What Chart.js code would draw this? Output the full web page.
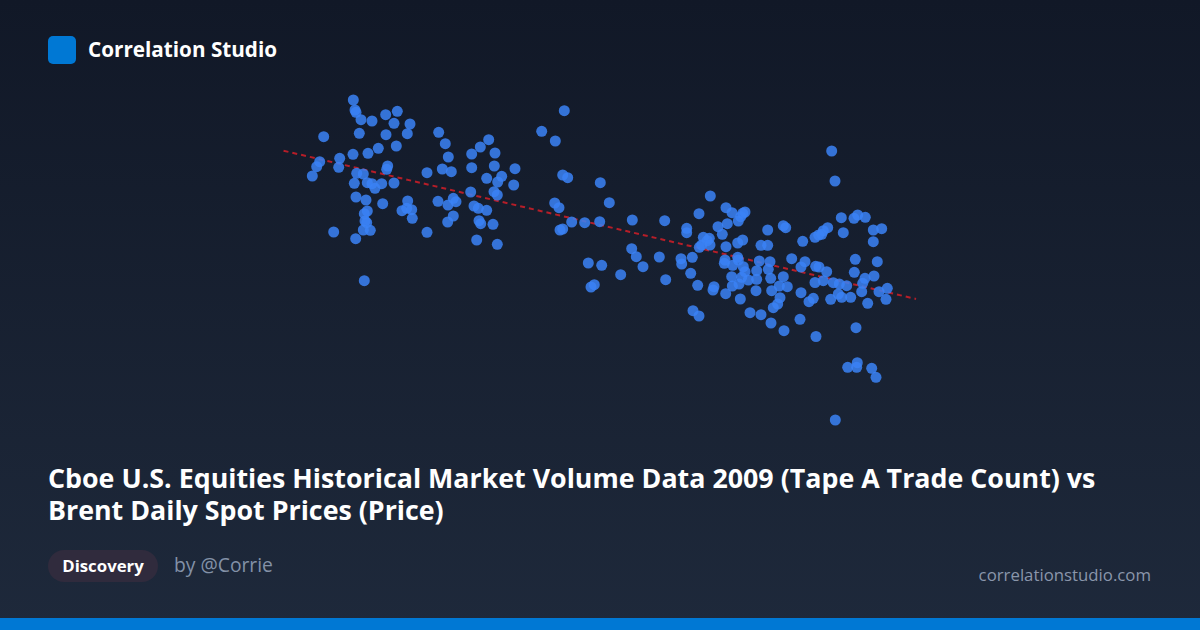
<!DOCTYPE html>
<html>
<head>
<meta charset="utf-8">
<script src="https://cdn.jsdelivr.net/npm/chart.js@4"></script>
<style>
  html, body { margin: 0; padding: 0; }
  body { width: 1200px; height: 630px; overflow: hidden; position: relative;
         background: linear-gradient(180deg, #111827 0%, #1e293b 100%);
         font-family: "Open Sans", "Noto Sans", sans-serif; }
  #logo { position: absolute; left: 48px; top: 36px; width: 28px; height: 28px; border-radius: 5px; background: #0078d4; }
  #brand { position: absolute; left: 88px; top: 34px; font-size: 20.7px; font-weight: 700; color: #ffffff; line-height: 30px; }
  #chartWrap { position: absolute; left: 260px; top: 70px; width: 680px; height: 380px; }
  #title { position: absolute; left: 48px; top: 462px; width: 1104px; font-size: 26.8px; font-weight: 700; color: #ffffff; line-height: 32px; }
  #pill { position: absolute; left: 48px; top: 550px; width: 110px; height: 32px; border-radius: 16px; background: #302b3d;
          color: #fff; font-weight: 700; font-size: 16.8px; line-height: 32px; text-align: center; }
  #author { position: absolute; left: 174px; top: 551px; font-size: 19.3px; color: #8391a7; line-height: 28px; }
  #site { position: absolute; right: 49px; top: 561px; font-size: 16.8px; color: #8a96ab; line-height: 28px; }
  #bar { position: absolute; left: 0; top: 618px; width: 1200px; height: 12px; background: #0078d4; }
</style>
</head>
<body>
<div id="logo"></div>
<div id="brand">Correlation Studio</div>
<div id="chartWrap"><canvas id="c" width="680" height="380"></canvas></div>
<div id="title">Cboe U.S. Equities Historical Market Volume Data 2009 (Tape A Trade Count) vs Brent Daily Spot Prices (Price)</div>
<div id="pill">Discovery</div>
<div id="author">by @Corrie</div>
<div id="site">correlationstudio.com</div>
<div id="bar"></div>
<script>
// Tape A trade count (thousands) per day
const tradeCount = [
  3533,3550,3560,3610,3720,3857,3973,3940,4100,3237,3593,3860,4073,4387,4453,3963,3783,3530,3680,4483,
  3397,3197,3167,3123,3387,3877,3867,4270,4423,4513,3567,3633,3543,3673,3720,3750,3817,3940,3560,3660,
  3827,4077,4020,4067,4117,4123,4380,4480,4533,4560,4533,4477,3673,3643,3650,3667,3633,3703,3337,3557,
  4270,3643,
  5643,5417,5553,4887,4803,4717,4950,4717,4943,5150,5627,5677,6003,4867,5017,4977,5137,4707,4940,4973,
  6093,4740,4783,4867,5547,5590,4790,4807,4930,5717,5847,5997,5600,5627,4767,4973,
  7103,6323,6647,6990,6867,6867,7260,7320,7427,7407,7383,7180,7273,7223,7033,7073,7093,7017,6993,7100,
  7260,7377,7427,6317,6363,6593,6810,6817,6923,6430,5883,6017,6207,6657,6907,6977,5943,5910,7140,7130,
  7257,7250,7243,7377,7383,7327,7433,7450,7317,7417,7323,7390,7403,6930,6990,7500,
  7450,7677,7833,7857,7610,7677,8027,8150,8187,7593,7700,7683,7567,7483,7567,7707,7833,7917,8010,8050,
  8157,8190,7560,7717,7793,7873,7800,7777,7733,8010,8090,8133,7610,7710,7840,8000,8160,8150,
  8317,8350,8413,8540,8577,8653,8277,8233,8217,8433,8733,8817,8733,8553,8773,8267,8543,8740,8650,8627,
  8233,8333,8393,8467,8617,8790,8873,8860,8677,8507,8417,8383,8307,8560,8477,8573,8567,8717,8760,8353
];
// Brent daily spot price (USD)
const brentPrice = [
  80.00,79.00,78.77,78.03,77.90,78.53,78.87,77.67,77.60,76.33,76.67,76.53,76.63,76.77,75.63,75.40,75.17,74.57,74.67,74.30,
  74.17,73.83,73.33,72.40,73.27,73.40,73.07,72.73,73.10,72.83,72.67,72.60,71.67,71.73,71.63,71.17,71.63,71.70,70.30,70.00,
  69.63,69.90,68.93,69.17,69.03,68.17,69.87,69.50,70.17,69.83,68.40,67.80,68.90,68.63,67.90,67.73,67.00,66.97,66.80,66.13,
  66.77,61.93,
  78.93,76.87,75.90,76.03,75.30,74.60,74.70,73.23,73.40,73.13,72.50,72.23,71.73,72.17,72.37,71.80,71.50,70.80,70.83,70.50,
  69.73,69.40,69.17,68.97,69.70,69.23,67.93,67.63,67.57,67.80,67.73,67.83,67.00,67.10,66.00,65.57,
  70.40,68.00,67.93,68.63,67.17,66.73,69.23,68.73,68.67,68.33,67.90,67.33,67.63,66.57,66.27,65.93,66.17,65.50,65.27,65.50,
  65.33,65.70,66.00,65.13,64.33,64.30,64.13,63.60,64.27,63.33,63.70,63.47,62.53,62.03,62.67,61.47,61.53,61.30,61.33,61.00,
  60.63,64.00,63.67,64.27,64.00,63.47,63.33,62.83,62.33,62.27,61.40,61.60,60.10,58.93,58.40,58.73,
  68.80,67.00,67.43,67.23,65.47,65.47,65.87,66.27,66.50,63.90,63.83,63.07,62.93,62.00,62.07,62.17,62.33,64.13,63.30,63.83,
  63.37,63.30,60.93,60.93,61.40,61.33,60.23,59.60,59.23,60.73,59.83,60.17,58.53,57.70,56.93,58.07,56.35,61.75,
  74.90,71.90,68.23,68.17,68.50,68.27,67.23,66.93,66.57,66.73,67.00,67.13,65.83,64.07,63.83,62.83,62.77,62.40,62.17,61.67,
  61.93,61.73,61.60,61.43,60.83,60.83,61.17,60.07,59.67,60.27,60.27,60.60,60.07,57.23,53.27,53.73,53.27,53.17,52.27,48.00
];
const xRange = [2600, 9400];
const yRange = [45, 83];

const points = tradeCount.map((x, i) => ({ x: x, y: brentPrice[i] }));

// least-squares trend line
const n = points.length;
let sx = 0, sy = 0, sxx = 0, sxy = 0;
points.forEach(p => { sx += p.x; sy += p.y; sxx += p.x * p.x; sxy += p.x * p.y; });
const slope = (n * sxy - sx * sy) / (n * sxx - sx * sx);
const intercept = (sy - slope * sx) / n;
const minX = Math.min(...tradeCount), maxX = Math.max(...tradeCount);
const pad = (maxX - minX) * 0.05;
const trend = [minX - pad, maxX + pad].map(x => ({ x: x, y: intercept + slope * x }));

new Chart(document.getElementById('c'), {
  type: 'scatter',
  data: {
    datasets: [
      { label: 'Days', data: points, order: 0,
        backgroundColor: 'rgba(59,130,246,0.85)', borderWidth: 0, pointRadius: 5.5, pointHoverRadius: 5.5 },
      { label: 'Trend', type: 'line', data: trend, order: 1, showLine: true,
        borderColor: 'rgba(200,30,40,0.9)', borderWidth: 2, borderDash: [5, 4], pointRadius: 0, fill: false }
    ]
  },
  options: {
    responsive: false, animation: false, devicePixelRatio: 1,
    layout: { padding: 0, autoPadding: false },
    plugins: { legend: { display: false }, tooltip: { enabled: false } },
    scales: {
      x: { type: 'linear', display: false, min: xRange[0], max: xRange[1] },
      y: { type: 'linear', display: false, min: yRange[0], max: yRange[1] }
    }
  }
});
</script>
</body>
</html>
